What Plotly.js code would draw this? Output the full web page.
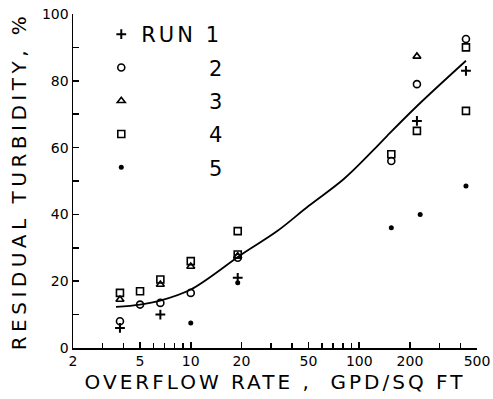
<!DOCTYPE html>
<html>
<head>
<meta charset="utf-8">
<script src="https://cdn.plot.ly/plotly-3.0.1.min.js"></script>
<style>
  html, body { margin: 0; padding: 0; background: #fff; }
  #chart { width: 493px; height: 399px; }
  .xtitle { letter-spacing: 3px; }
  .ytitle { letter-spacing: 4.5px; }
  .legendtext { letter-spacing: 3px; }
</style>
</head>
<body>
<div id="chart"></div>
<script>
// Run 1 (+)
const run1X = [3.8, 6.6, 19, 220, 430];
const run1Y = [6, 10, 21, 68, 83];
// Run 2 (open circle)
const run2X = [3.8, 5, 6.6, 10, 19, 155, 220, 430];
const run2Y = [8, 13, 13.5, 16.5, 27, 56, 79, 92.5];
// Run 3 (open triangle)
const run3X = [3.8, 6.6, 10, 19, 220];
const run3Y = [14.5, 19, 24.4, 27.5, 87.3];
// Run 4 (open square)
const run4X = [3.8, 5, 6.6, 10, 19, 19, 155, 220, 430, 430];
const run4Y = [16.5, 17, 20.5, 26, 35, 28, 58, 65, 90, 71];
// Run 5 (dot)
const run5X = [10, 19, 155, 230, 430];
const run5Y = [7.5, 19.5, 36, 40, 48.5];
// Fitted curve
const fitX = [3.6, 5, 6.6, 10, 20, 32.6, 50, 81, 120, 147, 222, 430];
const fitY = [12.3, 13, 14.2, 17.5, 28, 35, 42.5, 50.6, 59, 63.6, 72.6, 86];

const runNames = ["RUN 1", "2", "3", "4", "5"];
const xTickVals = [2, 5, 10, 20, 50, 100, 200, 500];
const xMinorVals = [3, 4, 6, 7, 8, 9, 30, 40, 60, 70, 80, 90, 300, 400];

const NB = "\u00A0";
function legendName(n, i) { return i === 0 ? n : NB.repeat(7) + n; }

const series = [
  {x: run1X, y: run1Y, sym: "cross-thin-open", size: 7, lw: 2},
  {x: run2X, y: run2Y, sym: "circle-open", size: 7, lw: 1.6},
  {x: run3X, y: run3Y, sym: "triangle-up-open", size: 7, lw: 1.6},
  {x: run4X, y: run4Y, sym: "square-open", size: 7, lw: 1.6},
  {x: run5X, y: run5Y, sym: "circle", size: 5, lw: 0}
];

const traces = series.map((s, i) => ({
  type: "scatter", mode: "markers",
  x: s.x, y: s.y,
  name: legendName(runNames[i], i),
  legendgroup: "g" + i,
  marker: {symbol: s.sym, size: s.size, color: "#000", line: {color: "#000", width: s.lw}}
}));

traces.push({
  type: "scatter", mode: "lines",
  x: fitX, y: fitY,
  line: {color: "#000", width: 1.8, shape: "spline"},
  showlegend: false, hoverinfo: "skip"
});

const font = {family: "DejaVu Sans, sans-serif", color: "#000"};

const layout = {
  width: 493, height: 399,
  margin: {l: 73, r: 16, t: 14, b: 51},
  paper_bgcolor: "#fff", plot_bgcolor: "#fff",
  font: Object.assign({size: 14}, font),
  showlegend: true,
  legend: {
    x: 0.07, y: 1.0, xanchor: "left", yanchor: "top",
    font: Object.assign({size: 21}, font),
    tracegroupgap: 3,
    traceorder: "grouped",
    bgcolor: "rgba(0,0,0,0)",
    borderwidth: 0
  },
  xaxis: {
    type: "log",
    range: [Math.log10(2), Math.log10(500)],
    tickmode: "array", tickvals: xTickVals, ticktext: xTickVals.map(String),
    ticks: "inside", ticklen: 6, tickwidth: 1.5, tickcolor: "#000",
    minor: {tickmode: "array", tickvals: xMinorVals, ticks: "inside", ticklen: 5, tickwidth: 1.5, tickcolor: "#000"},
    showline: true, linecolor: "#000", linewidth: 1.5,
    showgrid: false, zeroline: false,
    tickfont: Object.assign({size: 14}, font),
    title: {text: "OVERFLOW RATE ," + NB + NB + "GPD/SQ FT" + NB + NB, font: Object.assign({size: 20}, font), standoff: 6},
    automargin: false
  },
  yaxis: {
    range: [0, 100],
    tickmode: "linear", tick0: 0, dtick: 20,
    ticks: "inside", ticklen: 6, tickwidth: 1.5, tickcolor: "#000",
    minor: {dtick: 10, ticks: "inside", ticklen: 6, tickwidth: 1.5, tickcolor: "#000"},
    showline: true, linecolor: "#000", linewidth: 1.5,
    showgrid: false, zeroline: false,
    tickfont: Object.assign({size: 14}, font),
    title: {text: "RESIDUAL TURBIDITY, %" + NB + NB, font: Object.assign({size: 20}, font), standoff: 10},
    automargin: false
  }
};

Plotly.newPlot("chart", traces, layout, {displayModeBar: false, staticPlot: true});
</script>
</body>
</html>
